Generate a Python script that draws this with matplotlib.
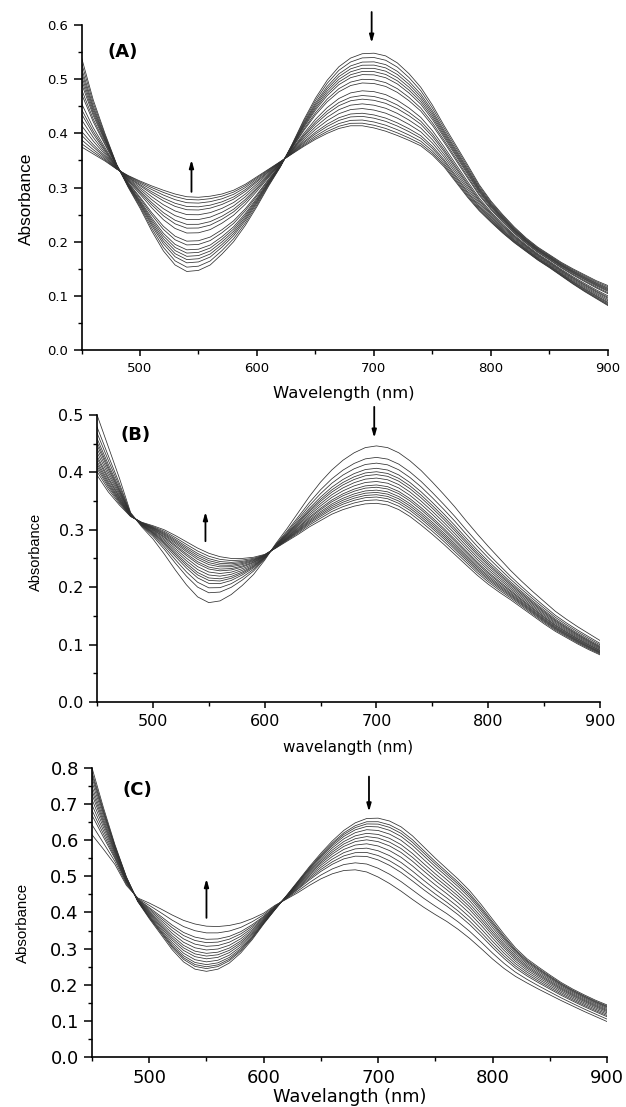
import numpy as np
import matplotlib.pyplot as plt
from matplotlib.ticker import MultipleLocator

# wavelength grid (nm) on which the two limiting spectra were read
wavelength = np.arange(450, 901, 10)

# panel A: first (deep trough) and last (shallow trough) spectra
a_first = [0.540, 0.462, 0.400, 0.343, 0.300, 0.262, 0.220, 0.183, 0.157, 0.145,
           0.147, 0.157, 0.177, 0.200, 0.230, 0.265, 0.303, 0.338, 0.380, 0.425,
           0.465, 0.498, 0.523, 0.539, 0.547, 0.548, 0.543, 0.530, 0.510, 0.485,
           0.452, 0.414, 0.378, 0.342, 0.305, 0.275, 0.250, 0.227, 0.207, 0.190,
           0.176, 0.162, 0.150, 0.139, 0.128, 0.119]
a_last = [0.375, 0.362, 0.349, 0.334, 0.322, 0.312, 0.303, 0.295, 0.288, 0.283,
          0.282, 0.284, 0.288, 0.295, 0.306, 0.320, 0.334, 0.348, 0.362, 0.376,
          0.389, 0.400, 0.409, 0.414, 0.414, 0.410, 0.404, 0.396, 0.387, 0.377,
          0.360, 0.338, 0.310, 0.282, 0.257, 0.236, 0.216, 0.198, 0.182, 0.166,
          0.152, 0.137, 0.122, 0.108, 0.095, 0.082]
# absorbance of every recorded spectrum at 700 nm
a_levels = [0.548, 0.540, 0.532, 0.526, 0.520, 0.514, 0.508, 0.499, 0.492, 0.477,
            0.468, 0.461, 0.452, 0.443, 0.434, 0.428, 0.421, 0.415, 0.410]

# panel B
b_first = [0.500, 0.445, 0.390, 0.330, 0.305, 0.284, 0.258, 0.230, 0.204, 0.183,
           0.173, 0.176, 0.187, 0.203, 0.222, 0.247, 0.276, 0.302, 0.330, 0.358,
           0.383, 0.404, 0.421, 0.434, 0.443, 0.446, 0.443, 0.434, 0.420, 0.403,
           0.383, 0.362, 0.340, 0.316, 0.293, 0.271, 0.250, 0.229, 0.210, 0.192,
           0.175, 0.158, 0.144, 0.131, 0.119, 0.107]
b_last = [0.395, 0.366, 0.343, 0.323, 0.313, 0.307, 0.300, 0.290, 0.279, 0.268,
          0.259, 0.253, 0.250, 0.250, 0.252, 0.257, 0.268, 0.280, 0.292, 0.305,
          0.316, 0.327, 0.335, 0.341, 0.345, 0.346, 0.343, 0.335, 0.323, 0.308,
          0.292, 0.275, 0.257, 0.239, 0.221, 0.205, 0.191, 0.178, 0.164, 0.150,
          0.136, 0.123, 0.112, 0.101, 0.091, 0.082]
b_levels = [0.446, 0.426, 0.416, 0.407, 0.401, 0.396, 0.390, 0.384, 0.378, 0.374,
            0.369, 0.365, 0.361, 0.357, 0.352, 0.346]

# panel C
c_first = [0.800, 0.690, 0.588, 0.499, 0.430, 0.383, 0.340, 0.297, 0.263, 0.243,
           0.237, 0.243, 0.260, 0.288, 0.325, 0.368, 0.408, 0.447, 0.487, 0.527,
           0.564, 0.598, 0.627, 0.648, 0.660, 0.661, 0.653, 0.637, 0.612, 0.581,
           0.550, 0.521, 0.492, 0.460, 0.422, 0.381, 0.340, 0.302, 0.272, 0.249,
           0.227, 0.206, 0.188, 0.172, 0.157, 0.144]
c_last = [0.615, 0.575, 0.533, 0.475, 0.440, 0.426, 0.410, 0.393, 0.378, 0.368,
          0.362, 0.361, 0.364, 0.371, 0.383, 0.398, 0.420, 0.437, 0.455, 0.475,
          0.493, 0.507, 0.516, 0.518, 0.512, 0.498, 0.480, 0.459, 0.436, 0.414,
          0.394, 0.375, 0.353, 0.328, 0.300, 0.271, 0.245, 0.223, 0.205, 0.188,
          0.172, 0.156, 0.141, 0.126, 0.112, 0.098]
# absorbance of every recorded spectrum at 690 nm
c_levels = [0.660, 0.651, 0.645, 0.638, 0.629, 0.619, 0.610, 0.601, 0.590, 0.578,
            0.566, 0.555, 0.534, 0.512]

plt.rcParams['font.family'] = 'DejaVu Sans'


def draw_panel(ax, first, last, levels, ref_nm, ymax, tag, xlabel,
               up, down, tick_fs, xlab_fs, ylab_fs, ylab_pos, xlab_pos, tag_pos):
    first = np.array(first)
    last = np.array(last)
    i = np.where(wavelength == ref_nm)[0][0]
    for lev in levels:
        t = np.clip((first[i] - lev) / (first[i] - last[i]), 0, 1)
        ax.plot(wavelength, first + t * (last - first), color='#303030', lw=0.55)

    ax.set_xlim(450, 900)
    ax.set_ylim(0, ymax)
    ax.spines['top'].set_visible(False)
    ax.spines['right'].set_visible(False)
    for s in ('left', 'bottom'):
        ax.spines[s].set_linewidth(1.2)
    ax.set_xticks([500, 600, 700, 800, 900])
    ax.xaxis.set_minor_locator(MultipleLocator(50))
    ax.yaxis.set_major_locator(MultipleLocator(0.1))
    ax.yaxis.set_minor_locator(MultipleLocator(0.05))
    ax.tick_params(labelsize=tick_fs)
    ax.tick_params(axis='x', which='major', direction='out', length=4.5, width=1.1, pad=4)
    ax.tick_params(axis='y', which='major', direction='out', length=6, width=1.1, pad=3.5)
    ax.tick_params(which='minor', direction='out', length=3, width=1.0)

    ax.set_ylabel('Absorbance', fontsize=ylab_fs, family='Liberation Sans')
    ax.yaxis.label.set_va('center')
    ax.yaxis.set_label_coords(*ylab_pos)
    ax.set_xlabel(xlabel, fontsize=xlab_fs)
    ax.xaxis.label.set_va('center')
    ax.xaxis.set_label_coords(*xlab_pos)
    ax.text(tag_pos[0], tag_pos[1], tag, transform=ax.transAxes, ha='left',
            va='center', fontsize=13, fontweight='bold')

    for (x, y0, y1) in (up, down):
        ax.annotate('', xy=(x, y1), xytext=(x, y0), annotation_clip=False,
                    arrowprops=dict(arrowstyle='-|>,head_length=0.45,head_width=0.13',
                                    color='black', lw=1.3, shrinkA=0, shrinkB=0))


fig = plt.figure(figsize=(6.26, 11.07), dpi=100)
ax_a = fig.add_axes([0.1302, 0.6838, 0.8410, 0.2936])
ax_b = fig.add_axes([0.1550, 0.3659, 0.8035, 0.2593])
ax_c = fig.add_axes([0.1470, 0.0452, 0.8227, 0.2611])

draw_panel(ax_a, a_first, a_last, a_levels, 700, 0.6, '(A)', 'Wavelength (nm)',
           up=(544, 0.292, 0.351), down=(698, 0.624, 0.567),
           tick_fs=9.5, xlab_fs=11.8, ylab_fs=12.4,
           ylab_pos=(-0.105, 0.465), xlab_pos=(0.498, -0.135), tag_pos=(0.05, 0.917))
draw_panel(ax_b, b_first, b_last, b_levels, 700, 0.5, '(B)', 'wavelangth (nm)',
           up=(547, 0.280, 0.331), down=(698, 0.514, 0.460),
           tick_fs=11.5, xlab_fs=11, ylab_fs=10.5,
           ylab_pos=(-0.121, 0.523), xlab_pos=(0.499, -0.160), tag_pos=(0.046, 0.93))
draw_panel(ax_c, c_first, c_last, c_levels, 690, 0.8, '(C)', 'Wavelangth (nm)',
           up=(550, 0.385, 0.493), down=(692, 0.776, 0.679),
           tick_fs=13, xlab_fs=12.8, ylab_fs=10.8,
           ylab_pos=(-0.134, 0.464), xlab_pos=(0.5, -0.137), tag_pos=(0.06, 0.924))

fig.savefig('out.png', dpi=100)
